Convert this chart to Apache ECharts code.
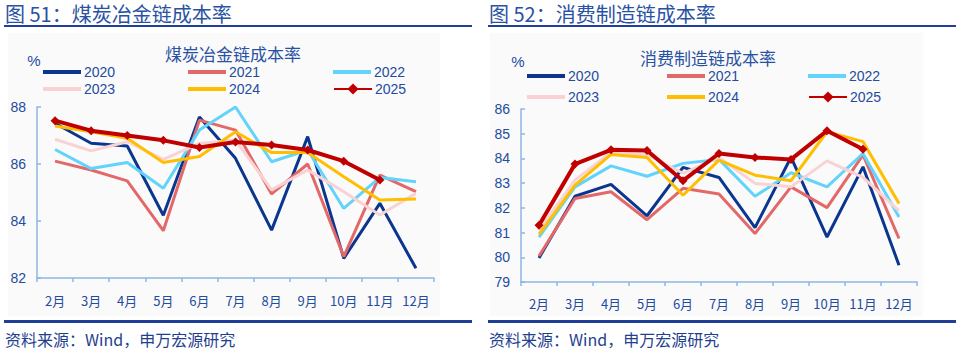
<!DOCTYPE html>
<html><head><meta charset="utf-8">
<script src="https://cdn.jsdelivr.net/npm/echarts@6/dist/echarts.min.js"></script>
<style>html,body{margin:0;padding:0;background:#fff}#c{width:960px;height:354px}</style>
</head><body><div id="c"></div>
<script>
const months = ['2月','3月','4月','5月','6月','7月','8月','9月','10月','11月','12月'];
const years = ['2020','2021','2022','2023','2024','2025'];

// 煤炭冶金链成本率 (%)
const coal2020 = [87.43, 86.73, 86.63, 84.20, 87.65, 86.20, 83.68, 86.96, 82.69, 84.62, 82.34];
const coal2021 = [86.10, 85.79, 85.41, 83.66, 87.54, 87.19, 84.95, 86.00, 82.75, 85.61, 85.03];
const coal2022 = [86.51, 85.84, 86.05, 85.15, 87.19, 88.00, 86.08, 86.49, 84.44, 85.53, 85.38];
const coal2023 = [86.87, 86.46, 86.78, 86.16, 86.72, 86.84, 85.09, 85.79, 85.03, 84.21, 84.97];
const coal2024 = [87.33, 87.13, 86.90, 86.05, 86.26, 87.13, 86.40, 86.40, 85.55, 84.74, 84.77];
const coal2025 = [87.52, 87.17, 87.00, 86.83, 86.58, 86.77, 86.67, 86.49, 86.10, 85.44, null];

// 消费制造链成本率 (%)
const cons2020 = [79.97, 82.47, 82.95, 81.68, 83.64, 83.23, 81.20, 84.05, 80.82, 83.66, 79.68];
const cons2021 = [80.05, 82.38, 82.65, 81.52, 82.79, 82.56, 80.96, 82.85, 82.01, 84.14, 80.76];
const cons2022 = [80.82, 82.85, 83.70, 83.28, 83.80, 83.96, 82.47, 83.42, 82.85, 84.20, 81.63];
const cons2023 = [81.10, 83.12, 84.25, 84.15, 83.40, 84.04, 82.99, 82.85, 83.90, 83.23, 81.88];
const cons2024 = [80.93, 82.92, 84.16, 84.04, 82.51, 83.93, 83.32, 83.10, 85.08, 84.68, 82.18];
const cons2025 = [81.30, 83.77, 84.35, 84.32, 83.10, 84.20, 84.04, 83.96, 85.12, 84.37, null];

const coalTicks = [82, 88, 2];
const consTicks = [79, 86, 1];

const coalData = [coal2020, coal2021, coal2022, coal2023, coal2024, coal2025];
const consData = [cons2020, cons2021, cons2022, cons2023, cons2024, cons2025];

const colors = ['#0b3690', '#e36868', '#62d3fb', '#f9d3d3', '#ffbf00', '#c00000'];
const txt = '#234b9f';
const axisC = '#8fb6e4';
const numFont = 'Liberation Sans, Arial, Noto Sans CJK SC, sans-serif';
const cjkFont = 'Noto Sans CJK SC, Liberation Sans, sans-serif';

function makeSeries(data, idx) {
  return data.map((d, i) => ({
    name: years[i], type: 'line', xAxisIndex: idx, yAxisIndex: idx,
    data: d,
    symbol: i === 5 ? 'diamond' : 'none',
    symbolSize: 9,
    showSymbol: i === 5,
    z: 2 + i,
    lineStyle: { color: colors[i], width: i === 5 ? 4 : 3 },
    itemStyle: { color: colors[i] },
    emphasis: { disabled: true },
    animation: false
  }));
}

function makeLegends(cols, rows) {
  const out = [];
  years.forEach((y, i) => {
    const isMark = i === 5;
    const h = isMark ? 14 : 4;
    out.push({
      data: [isMark ? { name: y } : { name: y, icon: 'rect' }],
      left: cols[i % 3], top: rows[Math.floor(i / 3)] - 7,
      itemWidth: 38, itemHeight: h, itemGap: 4, padding: 0,
      selectedMode: false,
      textStyle: { color: txt, fontSize: 14, fontFamily: numFont, padding: [0, 0, 0, -2] }
    });
  });
  return out;
}

function xAx(grid, margin) {
  return {
    type: 'category', gridIndex: grid, data: months, boundaryGap: true,
    axisLine: { lineStyle: { color: axisC, width: 1.5 } },
    axisTick: { show: true, length: 4, lineStyle: { color: axisC, width: 1.5 } },
    axisLabel: { color: txt, fontSize: 13, fontFamily: cjkFont, margin: margin }
  };
}
function yAx(grid, t) {
  return {
    type: 'value', gridIndex: grid, min: t[0], max: t[1], interval: t[2],
    splitLine: { show: false },
    axisLine: { show: true, lineStyle: { color: axisC, width: 1.5 } },
    axisTick: { show: true, inside: true, length: 4, lineStyle: { color: axisC, width: 1.5 } },
    axisLabel: { color: txt, fontSize: 14, fontFamily: numFont, margin: 11 }
  };
}

const chart = echarts.init(document.getElementById('c'), null, { renderer: 'svg' });
chart.setOption({
  animation: false,
  grid: [
    { left: 37, top: 107, width: 397, height: 171 },
    { left: 521, top: 109, width: 396, height: 173 }
  ],
  xAxis: [xAx(0, 16), xAx(1, 15)],
  yAxis: [yAx(0, coalTicks), yAx(1, consTicks)],
  legend: makeLegends([43, 188, 333], [72, 89]).concat(makeLegends([527, 667, 808], [76, 97])),
  series: makeSeries(coalData, 0).concat(makeSeries(consData, 1)),
  graphic: [
    { type: 'rect', z: -10, shape: { x: 8, y: 33, width: 432, height: 283 }, style: { fill: '#fafafa' } },
    { type: 'rect', z: -10, shape: { x: 490, y: 33, width: 433, height: 283 }, style: { fill: '#fafafa' } },
    { type: 'text', x: 5, y: 13, style: { text: '图 51：煤炭冶金链成本率', fill: '#2a52a3', fontSize: 20, fontFamily: cjkFont, textVerticalAlign: 'middle' } },
    { type: 'text', x: 489, y: 13, style: { text: '图 52：消费制造链成本率', fill: '#2a52a3', fontSize: 20, fontFamily: cjkFont, textVerticalAlign: 'middle' } },
    { type: 'rect', shape: { x: 4, y: 25, width: 468, height: 2 }, style: { fill: '#1f3f99' } },
    { type: 'rect', shape: { x: 488, y: 25, width: 468, height: 2 }, style: { fill: '#1f3f99' } },
    { type: 'rect', shape: { x: 4, y: 320, width: 468, height: 3 }, style: { fill: '#1f3f99' } },
    { type: 'rect', shape: { x: 488, y: 320, width: 468, height: 3 }, style: { fill: '#1f3f99' } },
    { type: 'text', x: 5, y: 339, style: { text: '资料来源：Wind，申万宏源研究', fill: '#1f3f8f', fontSize: 16, fontFamily: cjkFont, textVerticalAlign: 'middle' } },
    { type: 'text', x: 489, y: 339, style: { text: '资料来源：Wind，申万宏源研究', fill: '#1f3f8f', fontSize: 16, fontFamily: cjkFont, textVerticalAlign: 'middle' } },
    { type: 'text', x: 233, y: 53, style: { text: '煤炭冶金链成本率', fill: '#2a52a3', fontSize: 17, fontFamily: cjkFont, textAlign: 'center', textVerticalAlign: 'middle' } },
    { type: 'text', x: 708, y: 57, style: { text: '消费制造链成本率', fill: '#2a52a3', fontSize: 17, fontFamily: cjkFont, textAlign: 'center', textVerticalAlign: 'middle' } },
    { type: 'text', x: 34, y: 60, style: { text: '%', fill: txt, fontSize: 15, fontFamily: numFont, textAlign: 'center', textVerticalAlign: 'middle' } },
    { type: 'text', x: 518, y: 61, style: { text: '%', fill: txt, fontSize: 15, fontFamily: numFont, textAlign: 'center', textVerticalAlign: 'middle' } }
  ]
});
</script>
</body></html>
